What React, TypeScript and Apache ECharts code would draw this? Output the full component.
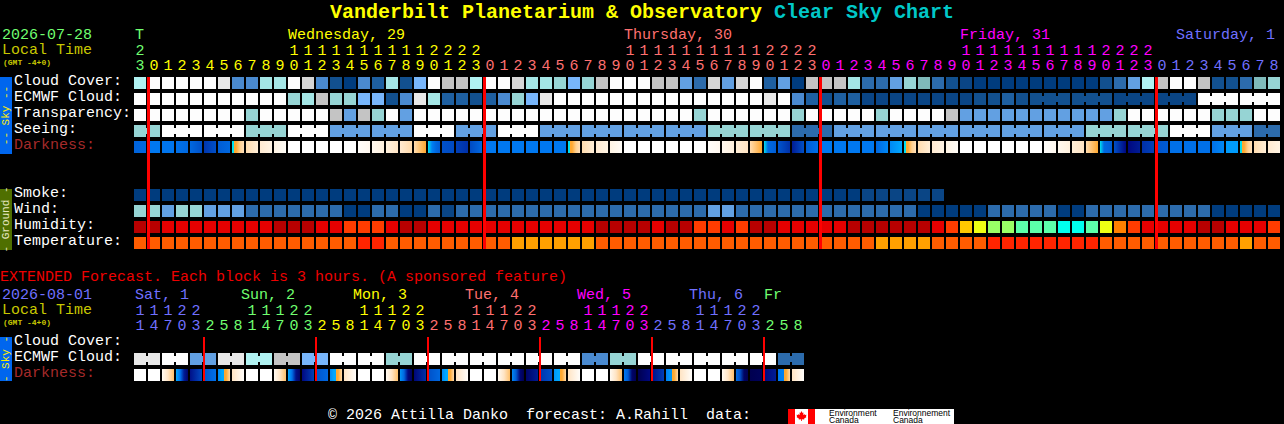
import React, { useEffect, useRef } from "react";
import * as echarts from "echarts";

// ---------- data ----------
const hoursMain = [23,
  0,1,2,3,4,5,6,7,8,9,10,11,12,13,14,15,16,17,18,19,20,21,22,23,
  0,1,2,3,4,5,6,7,8,9,10,11,12,13,14,15,16,17,18,19,20,21,22,23,
  0,1,2,3,4,5,6,7,8,9,10,11,12,13,14,15,16,17,18,19,20,21,22,23,
  0,1,2,3,4,5,6,7,8];
const hoursExt = [
  11,14,17,20,23,2,5,8, 11,14,17,20,23,2,5,8, 11,14,17,20,23,2,5,8,
  11,14,17,20,23,2,5,8, 11,14,17,20,23,2,5,8, 11,14,17,20,23,2,5,8];
const midnightMain = [1, 25, 49, 73];
const midnightExt = [5, 13, 21, 29, 37, 45];

const rowLabelsMain = ["Cloud Cover:", "ECMWF Cloud:", "Transparency:", "Seeing:", "Darkness:", " ", "  ", "Smoke:", "Wind:", "Humidity:", "Temperature:"];
const rowLabelsExt = ["Cloud Cover:", "ECMWF Cloud:", "Darkness:"];

const cloudCover = [70,100,100,100,100,100,90,30,30,60,60,100,85,30,10,0,30,15,60,10,40,
  100,80,80,70,100,100,85,60,60,55,40,55,80,100,100,100,80,80,35,20,85,35,85,100,15,35,0,80,80,80,60,
  20,20,35,55,50,20,10,5,0,0,0,0,0,0,0,0,0,10,20,35,70,80,100,100,80,10,10,20,50,55];
const ecmwfCloud = [100,100,100,100,100,100,100,100,100,100,100,55,60,80,55,55,40,40,10,30,90,
  60,15,15,10,15,30,55,40,90,100,100,100,100,100,100,100,100,100,100,100,100,100,100,100,90,100,30,15,10,15,15,
  5,5,5,5,5,5,5,5,10,10,15,10,10,10,10,10,10,10,5,5,5,5,5,5,100,100,100,100,100,100];
const transparency = [100,100,100,100,100,100,100,100,55,100,100,100,100,100,80,35,80,55,100,35,100,
  100,100,100,100,100,100,100,100,100,100,100,100,100,100,100,100,100,100,100,55,100,100,100,100,100,100,55,100,100,100,100,
  100,55,100,100,100,100,80,35,35,35,35,35,35,35,35,35,35,35,55,100,100,100,100,100,100,55,55,55,100,100];
const seeing = [55,55,100,100,100,100,100,100,55,55,55,100,100,100,35,35,35,35,35,35,100,100,100,
  35,35,35,100,100,100,35,35,35,35,35,35,35,35,35,35,35,35,55,55,55,55,55,55,20,20,20,
  35,35,35,35,35,35,35,35,35,35,35,35,35,35,35,35,35,35,55,55,55,55,55,55,100,100,100,35,35,35,20,20];
const smoke = [0,0,0,0,0,0,0,0,0,0,0,0,0,0,0,0,0,0,0,0,0,0,0,0,0,0,0,0,0,0,0,0,0,0,0,0,0,0,0,0,0,0,0,0,0,0,0,0,0,0,0,0,5,5,5,5,5,5];
const wind = [55,55,35,55,55,35,35,35,20,20,20,20,20,20,20,0,0,20,20,0,0,
  20,5,20,20,20,20,20,20,20,20,20,20,20,20,20,20,20,20,20,20,35,35,20,20,20,20,20,20,20,20,20,
  20,20,20,20,0,0,0,0,0,20,20,20,20,20,0,0,20,20,20,20,20,20,20,20,20,0,0,0,0,0];
const humidity = [100,100,90,90,90,90,90,90,90,90,100,100,100,90,90,85,85,85,90,100,100,
  90,90,90,90,90,90,90,90,90,90,90,90,100,100,100,100,90,100,100,85,85,90,85,100,100,90,90,90,90,90,100,
  100,100,100,100,100,90,85,70,65,55,55,45,45,45,35,35,45,65,80,85,90,90,90,90,100,100,90,90,90,85];
const temperature = [24,24,24,24,24,24,24,24,24,24,24,24,24,24,24,24,26,26,24,24,24,
  24,24,24,24,24,24,22,22,22,22,22,22,24,24,24,24,24,24,24,24,24,24,24,24,24,24,24,24,24,24,24,
  24,22,22,22,22,24,24,24,24,26,26,26,26,26,26,26,26,24,24,24,24,24,24,24,24,24,24,22,24,24];

const SR = [0, -0.5, -1, -1.8];
const darknessMain = [
  [3.2,3],[2,2],[2.2,2.2],[2.5,3],[3,4],[4.8,4],[3.5,3],SR,[-1.6,-2.6],[-2.4,-3],[-3,-3.7],
  [-4],[-4],[-4],[-4],[-4],[-3.8,-3.4],[-3.4,-2.8],[-2.8,-2],[-2.4,-1.5],[-1.6,-0.5],
  [0,1.5,3,3.5],[4,4.2],[4.5,5],[4.2,3],[2,2],[2,2],[2,2],[2,2],[2,2],[2,2],SR,[-1.6,-2.6],[-2.4,-3],[-3,-3.7],
  [-4],[-4],[-4],[-4],[-4],[-4],[-3.8,-3.4],[-3.4,-2.8],[-2.6,-2],[-1.6,-0.5],
  [0,3,3.2,3.5],[3.8,5],[5.5,4],[3.5,2.5],[2,2],[2,2],[2,2],[2,2],[3,1],[1,0.5],SR,[-1.6,-2.6],[-2.4,-3],[-3,-3.7],
  [-4],[-4],[-4],[-4],[-4],[-4],[-3.8,-3.4],[-3.4,-2.8],[-2.6,-2],[-1.6,-0.5],
  [0,3,3.2,3.5],[4,6],[6,5.5],[5,4.5],[3.8,3.5],[2.5,2.5],[2.5,2.5],[2.5,2.5],[2.5,1],[0.7,0.7],SR,[-1.6,-2.6],[-2.4,-3],
];

const ecmwfExt = [90,90,100,100,35,35,90,90,70,70,80,80,40,40,100,100,100,100,55,55,
  100,100,100,100,100,100,100,100,100,100,100,100,30,30,55,55,100,100,100,100,100,100,100,100,100,100,20,20];
const SS = [-3.5, -2, -0.8];
const FD = [-2, -3.8];
const darknessExt = [
  [-4],[-4],SS,[0.5,2,5.5,6.5],[5.8,4.2],[3.8,2.5],[1,0.5,-0.5,-1.5],FD,
  [-4],[-4],SS,[0.5,2.5,5.8,6.5],[6,4.5],[3.8,3],[1,0.5,-0.5,-1.5],FD,
  [-4],[-4],SS,[0.8,3,6,6.8],[6.2,5],[4,3],[1,0.5,-0.5,-1.5],FD,
  [-4],[-4],SS,[1,3.5,6.2,7],[6.5,5.5],[4.8,4],[0.8,0.5,-0.5,-1.5],FD,
  [-4],[-4],SS,[2,3.5,6.5,7],[7,6],[5.8,4.6],[1.5,0.8,-0.5,-1.5],FD,
  [-4],[-4],SS,[2.8,4,6.6,7],[7,6.8],[6,5.5],[2,1.5,-0.5,-1.5],FD,
];
const seeingBlocks = [2,3,3,3,3,3,3,3,3,3,3,3,3,3,3,3,3,3,3,3,3,3,3,3,3,3,3,2];
const ecmwfBlocks = [1,1,1,1,1,1,1,1,1,1,1,1,1,1,1,1,1,1,1,1,1,1,1,1,1,1,1,1,1,1,1,1,1,1,1,1,1,1,1,1,1,1,1,1,1,1,1,1,1,1,1,1,1,1,1,1,1,1,1,1,1,1,1,1,3,3,3,3,3,3];
const ecmwfExtBlocks = [2,2,2,2,2,2,2,2,2,2,2,2,2,2,2,2,2,2,2,2,2,2,2,2];

const dayNamesMain = ["T", "Wednesday, 29", "Thursday, 30", "Friday, 31", "Saturday, 1"];
const dayNamesExt = ["Sat, 1", "Sun, 2", "Mon, 3", "Tue, 4", "Wed, 5", "Thu, 6", "Fr"];

// ---------- styles ----------
const GREEN = "#70ff70", YELLOW = "#ffff00", SALMON = "#ff7070", MAGENTA = "#ff00ff", BLUE = "#7070ff";
const mainDayColors = [GREEN, YELLOW, SALMON, MAGENTA, BLUE];
const extDayColors = [BLUE, GREEN, YELLOW, SALMON, MAGENTA, BLUE, GREEN];
const dayXMain = [135, 288, 624, 960, 1176];
const dayXExt = [135, 241, 353, 465, 577, 689, 764];

const skyColors: Record<number, string> = {
  0: "#003c7e", 5: "#0a4585", 10: "#12508f", 15: "#1e5fa0", 20: "#2c6bac", 30: "#4a8ad0", 35: "#62a0e2",
  40: "#78b6fb", 50: "#7fbaba", 55: "#96d4d4", 60: "#a4e6e6", 70: "#b0f2f2", 80: "#c4c4c4", 85: "#d6d6d6",
  90: "#e8e8e8", 100: "#fdfdfd",
};
const humidityColors: Record<number, string> = {
  100: "#b80000", 90: "#e60000", 85: "#ff3c00", 80: "#ff8000", 70: "#ffc800", 65: "#eeff14", 55: "#99ff66", 45: "#5cffaa", 35: "#00ffee",
};
const temperatureColors: Record<number, string> = { 22: "#ffa000", 24: "#ff5c00", 26: "#ff2400" };
const nightRamp: [number, number[]][] = [
  [0,[0,224,240]],[0.5,[0,168,255]],[1,[0,136,244]],[2,[0,120,240]],[3,[0,104,224]],[4,[0,80,200]],[5,[0,48,168]],[6,[0,8,128]],[7,[0,0,80]],
];
const dayRamp: [number, number[]][] = [
  [-4,[255,255,255]],[-3,[255,244,228]],[-2,[255,228,196]],[-1,[255,208,144]],[-0.5,[255,168,48]],
];
function rampColor(v: number) {
  const r = v < 0 ? dayRamp : nightRamp;
  let a = r[0], b = r[r.length - 1];
  if (v <= a[0]) b = a;
  else if (v >= b[0]) a = b;
  else for (let i = 0; i < r.length - 1; i++) if (v >= r[i][0] && v <= r[i + 1][0]) { a = r[i]; b = r[i + 1]; break; }
  const t = b[0] === a[0] ? 0 : (v - a[0]) / (b[0] - a[0]);
  const c = a[1].map((x, i) => Math.round(x + (b[1][i] - x) * t));
  return `rgb(${c[0]},${c[1]},${c[2]})`;
}
function darkFill(s: number[]) {
  if (s.length === 1) return rampColor(s[0]);
  const stops: { offset: number; color: string }[] = [];
  const n = s.length - 1;
  s.forEach((v, i) => {
    stops.push({ offset: i / n, color: rampColor(v) });
    if (i < n && (v < 0) !== (s[i + 1] < 0)) {
      const mid = (i + 0.5) / n;
      stops.push({ offset: mid, color: rampColor(v) });
      stops.push({ offset: mid, color: rampColor(s[i + 1]) });
    }
  });
  return new echarts.graphic.LinearGradient(0, 0, 1, 0, stops);
}

const MONO = "Liberation Mono";
const font = (size: number, bold = false) => `${bold ? "bold " : ""}${size}px "${MONO}"`;
function label(text: string, x: number, y: number, fill: string, size = 15, bold = false) {
  return { type: "text", x, y, silent: true, style: { text, x: 0, y: 0, fill, font: font(size, bold), align: "left", verticalAlign: "middle" } };
}
function sideBar(top: number, h: number, color: string, text: string, fill: string) {
  return [
    { type: "rect", silent: true, shape: { x: 0, y: top, width: 12, height: h }, style: { fill: color } },
    { type: "text", x: 6, y: top + h / 2, rotation: Math.PI / 2, silent: true,
      style: { text, x: 0, y: 0, fill, font: font(11), align: "center", verticalAlign: "middle" } },
  ];
}
const leaf = [[0,-5],[1,-3],[2,-3.5],[1.6,-1],[3,-2],[3.3,-1],[5,-1.2],[4.4,0.5],[5,1],[2.5,2.7],[2.8,3.5],[0.4,3.2],[0.4,5],[-0.4,5],[-0.4,3.2],[-2.8,3.5],[-2.5,2.7],[-5,1],[-4.4,0.5],[-5,-1.2],[-3.3,-1],[-3,-2],[-1.6,-1],[-2,-3.5],[-1,-3]];

// ---------- series builders ----------
function linksFrom(blocks: number[]) {
  const out: boolean[] = [];
  blocks.forEach((b) => { for (let i = 0; i < b; i++) out.push(i < b - 1); });
  return out;
}
function cellSeries(name: string, axis: number, row: number, count: number, fill: (i: number) => any, links?: boolean[]) {
  const data = [];
  for (let i = 0; i < count; i++) data.push([i, row]);
  return {
    type: "custom", name, silent: true, clip: false, xAxisIndex: axis === 0 ? 0 : 2, yAxisIndex: axis,
    data, encode: { x: 0, y: 1 },
    renderItem: (_p: any, api: any) => {
      const i = api.value(0);
      const c = api.coord([i, api.value(1)]);
      const f = fill(i);
      const children: any[] = [{ type: "rect", shape: { x: c[0] - 7, y: c[1] - 6, width: 12, height: 12 }, style: { fill: f } }];
      if (links && links[i]) children.push({ type: "rect", shape: { x: c[0] + 5, y: c[1] - 3, width: 2, height: 6 }, style: { fill: f } });
      return { type: "group", children };
    },
  };
}
function redLines(name: string, axis: number, cols: number[], lastRow: number) {
  return {
    type: "custom", name, silent: true, clip: false, z: 5, xAxisIndex: axis === 0 ? 0 : 2, yAxisIndex: axis,
    data: cols.map((c) => [c, 0]), encode: { x: 0, y: 1 },
    renderItem: (_p: any, api: any) => {
      const a = api.coord([api.value(0), 0]);
      const b = api.coord([api.value(0), lastRow]);
      return { type: "rect", shape: { x: a[0] - 8, y: a[1] - 6, width: axis === 0 ? 3 : 2, height: b[1] - a[1] + 12 }, style: { fill: "#ff0000" } };
    },
  };
}
function hourAxis(grid: number, hours: number[], tens: boolean, breaks: number[], colors: string[]) {
  return {
    type: "category", gridIndex: grid, position: "top", offset: tens ? 15 : 0,
    data: hours.map((h) => (tens ? (h >= 10 ? String(Math.floor(h / 10)) : "") : String(h % 10))),
    axisLine: { show: false }, axisTick: { show: false }, splitLine: { show: false },
    axisLabel: {
      show: true, interval: 0, margin: 1, fontFamily: MONO, fontSize: 15, lineHeight: 15, padding: [0, 2, 0, 0], hideOverlap: false,
      color: (_v: any, idx: number) => colors[breaks.filter((b) => b <= idx).length],
    },
  };
}
function rowAxis(grid: number, labels: string[]) {
  return {
    type: "category", gridIndex: grid, inverse: true, data: labels,
    axisLine: { show: false }, axisTick: { show: false }, splitLine: { show: false },
    axisLabel: {
      show: true, interval: 0, align: "left", verticalAlign: "bottom", lineHeight: 3, margin: 120, fontFamily: MONO, fontSize: 15,
      color: (v: string) => (v === "Darkness:" ? "#a52a2a" : "#ffffff"),
    },
  };
}

export default function App() {
  const ref = useRef<HTMLDivElement>(null);
  useEffect(() => {
    document.body.style.margin = "0";
    document.body.style.background = "#000";
    const chart = echarts.init(ref.current!, undefined, { renderer: "svg" });
    const sky = (vals: number[]) => (i: number) => skyColors[vals[i]];
    chart.setOption({
      animation: false,
      backgroundColor: "#000000",
      grid: [
        { left: 134, top: 75, width: 1148, height: 176, containLabel: false },
        { left: 134, top: 335, width: 672, height: 48, containLabel: false },
      ],
      xAxis: [
        hourAxis(0, hoursMain, false, midnightMain, mainDayColors),
        hourAxis(0, hoursMain, true, midnightMain, mainDayColors),
        hourAxis(1, hoursExt, false, midnightExt, extDayColors),
        hourAxis(1, hoursExt, true, midnightExt, extDayColors),
      ],
      yAxis: [rowAxis(0, rowLabelsMain), rowAxis(1, rowLabelsExt)],
      series: [
        cellSeries("Cloud Cover", 0, 0, cloudCover.length, sky(cloudCover)),
        cellSeries("ECMWF Cloud", 0, 1, ecmwfCloud.length, sky(ecmwfCloud), linksFrom(ecmwfBlocks)),
        cellSeries("Transparency", 0, 2, transparency.length, sky(transparency)),
        cellSeries("Seeing", 0, 3, seeing.length, sky(seeing), linksFrom(seeingBlocks)),
        cellSeries("Darkness", 0, 4, darknessMain.length, (i) => darkFill(darknessMain[i])),
        cellSeries("Smoke", 0, 7, smoke.length, sky(smoke)),
        cellSeries("Wind", 0, 8, wind.length, sky(wind)),
        cellSeries("Humidity", 0, 9, humidity.length, (i) => humidityColors[humidity[i]]),
        cellSeries("Temperature", 0, 10, temperature.length, (i) => temperatureColors[temperature[i]]),
        redLines("Midnight", 0, midnightMain, 10),
        cellSeries("ECMWF Cloud ext", 1, 1, ecmwfExt.length, sky(ecmwfExt), linksFrom(ecmwfExtBlocks)),
        cellSeries("Darkness ext", 1, 2, darknessExt.length, (i) => darkFill(darknessExt[i])),
        redLines("Midnight ext", 1, midnightExt, 2),
      ],
      graphic: [
        label("Vanderbilt Planetarium & Observatory", 330, 12, "#ffff00", 20, true),
        label("Clear Sky Chart", 774, 12, "#00c8c8", 20, true),
        label("2026-07-28", 2, 35.5, GREEN),
        label("Local Time", 2, 50.5, "#c8c800"),
        label("(GMT -4+0)", 3, 62, "#c8c800", 8, true),
        ...dayNamesMain.map((d, i) => label(d, dayXMain[i], 35.5, mainDayColors[i])),
        ...sideBar(77, 77, "#0066ee", "-- Sky --", "#ffee00"),
        ...sideBar(189, 61, "#4f6f00", "- Ground -", "#e8e8c0"),
        label("EXTENDED Forecast. Each block is 3 hours. (A sponsored feature)", 0, 277, "#ee0000"),
        label("2026-08-01", 2, 295.5, BLUE),
        label("Local Time", 2, 310.5, "#c8c800"),
        label("(GMT -4+0)", 3, 322, "#c8c800", 8, true),
        ...dayNamesExt.map((d, i) => label(d, dayXExt[i], 295.5, extDayColors[i])),
        ...sideBar(337, 44, "#0066ee", "- Sky -", "#ffee00"),
        label("\u00a9 2026 Attilla Danko  forecast: A.Rahill  data:", 328, 415, "#ffffff"),
        { type: "rect", silent: true, shape: { x: 788, y: 409, width: 166, height: 15 }, style: { fill: "#ffffff" } },
        { type: "rect", silent: true, shape: { x: 788, y: 409, width: 7, height: 15 }, style: { fill: "#ff0000" } },
        { type: "rect", silent: true, shape: { x: 808, y: 409, width: 7, height: 15 }, style: { fill: "#ff0000" } },
        { type: "polygon", silent: true, x: 801.5, y: 416, shape: { points: leaf }, style: { fill: "#ff0000" } },
        ...[["Environment\nCanada", 829], ["Environnement\nCanada", 893]].map(([t, x]) => ({
          type: "text", x, y: 416.5, silent: true,
          style: { text: t, x: 0, y: 0, fill: "#000000", font: '8.5px "Liberation Sans"', lineHeight: 7.5, align: "left", verticalAlign: "middle" },
        })),
      ],
    });
    return () => chart.dispose();
  }, []);
  return <div ref={ref} style={{ position: "fixed", left: 0, top: 0, width: 1284, height: 424, overflow: "hidden" }} />;
}
